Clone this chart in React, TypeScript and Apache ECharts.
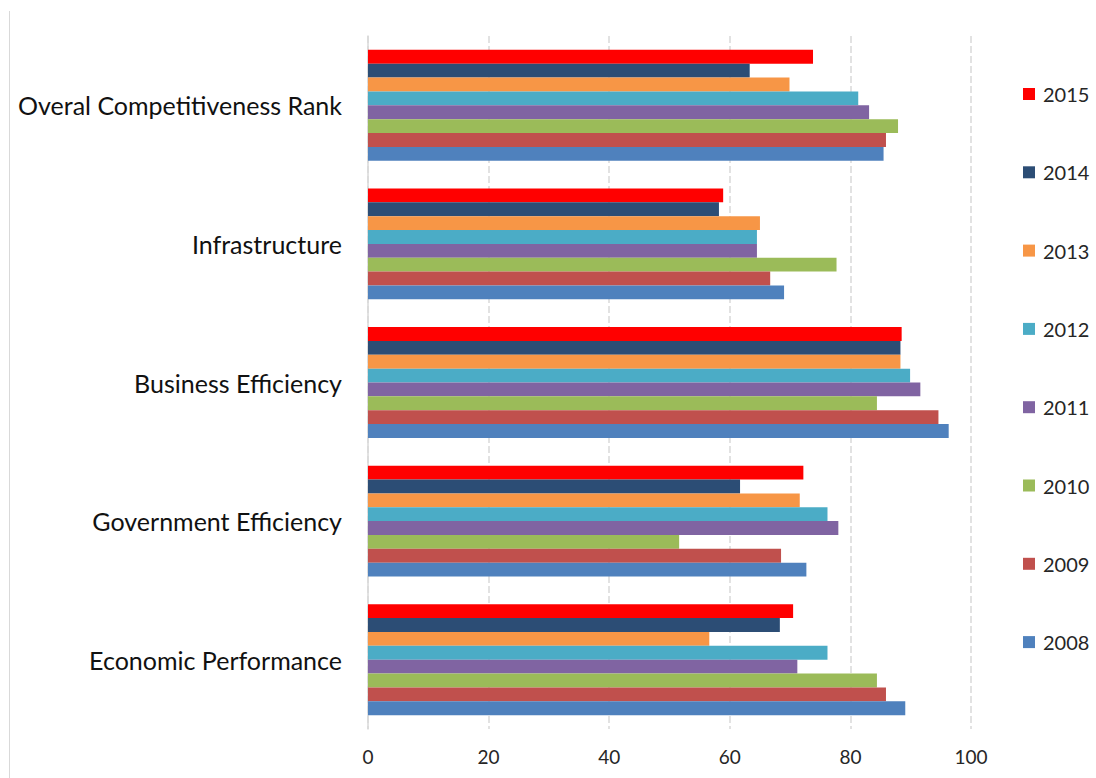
import React, { useEffect, useRef } from "react";
import * as echarts from "echarts";

const categories = [
  "Economic Performance",
  "Government Efficiency",
  "Business Efficiency",
  "Infrastructure",
  "Overal Competitiveness Rank",
];

const years = ["2008", "2009", "2010", "2011", "2012", "2013", "2014", "2015"];

// values per year, in category order (bottom to top)
const v2008 = [89.1, 72.7, 96.3, 69.0, 85.5];
const v2009 = [85.9, 68.5, 94.6, 66.7, 85.9];
const v2010 = [84.4, 51.6, 84.4, 77.7, 87.9];
const v2011 = [71.2, 78.0, 91.6, 64.5, 83.1];
const v2012 = [76.2, 76.2, 89.9, 64.5, 81.3];
const v2013 = [56.6, 71.6, 88.3, 65.0, 69.9];
const v2014 = [68.3, 61.7, 88.3, 58.2, 63.3];
const v2015 = [70.5, 72.2, 88.5, 58.9, 73.8];

const seriesValues = [v2008, v2009, v2010, v2011, v2012, v2013, v2014, v2015];
const colors = ["#4F81BD", "#C0504D", "#9BBB59", "#8064A2", "#4BACC6", "#F79646", "#2C4D75", "#FF0000"];

const FONT = "Lato, 'Open Sans', sans-serif";

export default function App() {
  const ref = useRef<HTMLDivElement>(null);
  useEffect(() => {
    if (!ref.current) return;
    const chart = echarts.init(ref.current, undefined, { renderer: "svg" });
    // ECharts stacks horizontal bars of one category from top to bottom in series order,
    // so the series are added from 2015 down to 2008 (2008 ends at the bottom).
    const order = years.map((_, i) => i).reverse();
    chart.setOption({
      animation: false,
      backgroundColor: "#ffffff",
      textStyle: { fontFamily: FONT },
      grid: { left: 368, right: 125, top: 36, bottom: 49, containLabel: false },
      xAxis: {
        type: "value",
        min: 0,
        max: 100,
        interval: 20,
        axisLine: { show: false },
        axisTick: { show: false },
        axisLabel: { fontSize: 19, color: "#262626", margin: 18, fontFamily: FONT },
        splitLine: { show: true, lineStyle: { color: "#d9d9d9", type: [7, 3], width: 1.5 } },
      },
      yAxis: {
        type: "category",
        data: categories,
        axisLine: { show: true, lineStyle: { color: "#d9d9d9", width: 1.5 } },
        axisTick: { show: false },
        axisLabel: { fontSize: 25, color: "#111", margin: 26, fontFamily: FONT },
      },
      legend: {
        orient: "vertical",
        left: 1018,
        top: 79,
        itemWidth: 12,
        itemHeight: 12,
        itemGap: 58.3,
        icon: "rect",
        data: years.slice().reverse(),
        textStyle: { fontSize: 20, color: "#262626", fontFamily: FONT, padding: [0, 0, 0, 3] },
      },
      graphic: [
        {
          type: "line",
          shape: { x1: 9.5, y1: 11, x2: 9.5, y2: 778 },
          style: { stroke: "#d9d9d9", lineWidth: 1 },
        },
      ],
      series: order.map((i) => ({
        name: years[i],
        type: "bar",
        data: seriesValues[i],
        barGap: "0%",
        barCategoryGap: "20%",
        itemStyle: { color: colors[i] },
      })),
    });
    return () => chart.dispose();
  }, []);
  return (
    <div
      ref={ref}
      style={{ position: "absolute", left: 0, top: 0, width: 1096, height: 778 }}
    />
  );
}
